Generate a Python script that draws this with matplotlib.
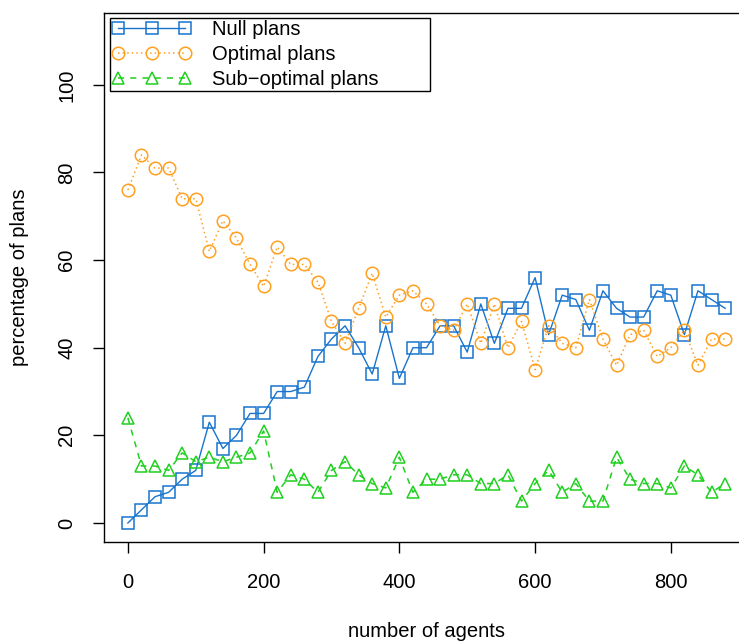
import numpy as np
import matplotlib
matplotlib.use('Agg')
import matplotlib.pyplot as plt

plt.rcParams['font.family'] = ['Liberation Sans', 'DejaVu Sans']

# number of agents
agents = list(range(0, 881, 20))

# percentage of plans per category
null_plans = [0, 3, 6, 7, 10, 12, 23, 17, 20, 25, 25, 30, 30, 31, 38, 42, 45, 40, 34, 45,
              33, 40, 40, 45, 45, 39, 50, 41, 49, 49, 56, 43, 52, 51, 44, 53, 49, 47, 47, 53,
              52, 43, 53, 51, 49]
optimal_plans = [76, 84, 81, 81, 74, 74, 62, 69, 65, 59, 54, 63, 59, 59, 55, 46, 41, 49, 57, 47,
                 52, 53, 50, 45, 44, 50, 41, 50, 40, 46, 35, 45, 41, 40, 51, 42, 36, 43, 44, 38,
                 40, 44, 36, 42, 42]
suboptimal_plans = [24, 13, 13, 12, 16, 14, 15, 14, 15, 16, 21, 7, 11, 10, 7, 12, 14, 11, 9, 8,
                    15, 7, 10, 10, 11, 11, 9, 9, 11, 5, 9, 12, 7, 9, 5, 5, 15, 10, 9, 9,
                    8, 13, 11, 7, 9]

labels = ['Null plans', 'Optimal plans', 'Sub\u2212optimal plans']
xticks = [0, 200, 400, 600, 800]
yticks = [0, 20, 40, 60, 80, 100]

W, H = 739, 641
fig = plt.figure(figsize=(W / 100, H / 100), dpi=100)
# axes box runs past the right edge of the figure, as in the original
ax = fig.add_axes([104 / W, (H - 542) / H, (749 - 104) / W, (542 - 13) / H])

blue = '#1874CD'
orange = '#FFA020'
green = '#1FD01F'

ax.plot(agents, null_plans, color=blue, ls='-', lw=1, marker='s', ms=8,
        mfc='none', mec=blue, mew=1.1, label=labels[0])
ax.plot(agents, optimal_plans, color=orange, ls=(0, (1, 2)), lw=1.1, marker='o', ms=9,
        mfc='none', mec=orange, mew=1.1, label=labels[1])
ax.plot(agents, suboptimal_plans, color=green, ls=(0, (4, 4)), lw=1.1, marker='^', ms=9,
        mfc='none', mec=green, mew=1.1, label=labels[2])

ax.set_xlim(-35.2, 915.2)
ax.set_ylim(-4.34, 116.4)
ax.set_xticks(xticks)
ax.set_yticks(yticks)
ax.set_yticklabels([str(v) for v in yticks], rotation=90, va='center')
ax.tick_params(direction='out', length=8, width=1, labelsize=14.5)
ax.tick_params(axis='x', pad=14)
ax.tick_params(axis='y', pad=12)
for s in ax.spines.values():
    s.set_linewidth(1)

ax.set_xlabel('number of agents', fontsize=14.5, labelpad=22)
ax.set_ylabel('percentage of plans', fontsize=14.5, labelpad=20)

leg = ax.legend(loc='upper left', bbox_to_anchor=(110 / W, 1 - 92 / H, 320 / W, 74 / H),
                bbox_transform=fig.transFigure, mode='expand', borderaxespad=0,
                numpoints=3, handlelength=3.9, handletextpad=1.05, labelspacing=0.28,
                borderpad=0.12, fontsize=14.5, fancybox=False, framealpha=1,
                edgecolor='black')
leg.get_frame().set_linewidth(1)

fig.savefig('out.png', dpi=100)
